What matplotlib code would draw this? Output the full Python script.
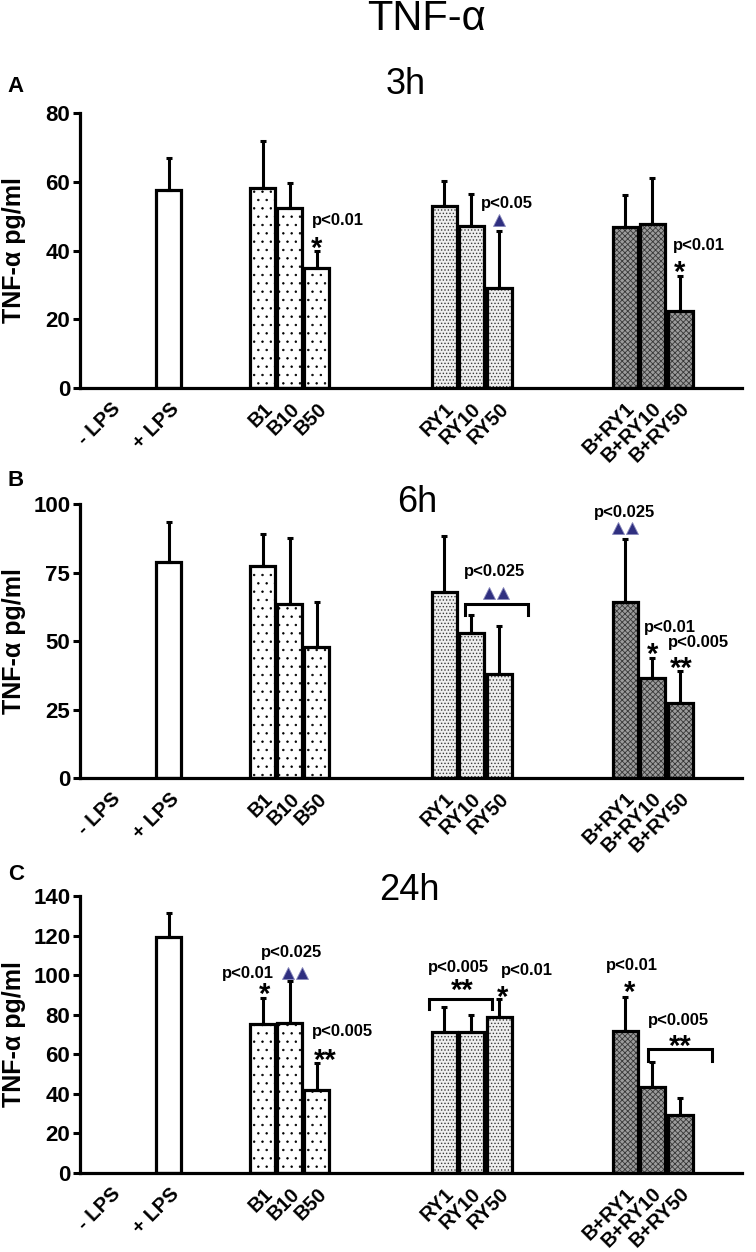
import matplotlib.pyplot as plt
import matplotlib.transforms as mtransforms
import numpy as np

plt.rcParams['font.family'] = ['Liberation Sans', 'DejaVu Sans']

labels = ['- LPS', '+ LPS', 'B1', 'B10', 'B50', 'RY1', 'RY10', 'RY50',
          'B+RY1', 'B+RY10', 'B+RY50']
groups = ['lps', 'lps', 'b', 'b', 'b', 'ry', 'ry', 'ry', 'bry', 'bry', 'bry']

# TNF-alpha (pg/ml), mean and upper error
mean_3h = [0, 57.6, 58.1, 52.3, 34.9, 52.9, 47.1, 29.1, 46.8, 47.7, 22.4]
err_3h = [0, 9.3, 13.9, 7.3, 4.9, 7.3, 9.3, 16.5, 9.3, 13.3, 10.2]
mean_6h = [0, 78.8, 77.4, 63.5, 47.8, 67.9, 52.9, 38.0, 64.2, 36.5, 27.4]
err_6h = [0, 14.6, 11.7, 24.1, 16.4, 20.4, 6.6, 17.5, 23.0, 7.3, 11.6]
mean_24h = [0, 119.2, 75.3, 75.8, 41.9, 71.2, 71.2, 78.8, 71.7, 43.4, 29.3]
err_24h = [0, 12.1, 13.1, 21.2, 13.7, 12.8, 8.6, 9.1, 17.2, 12.6, 8.6]

# layout (x in axis units)
xpos = [31, 89, 183, 210, 237, 364, 391, 419, 545, 572, 600]
width = 25

styles = {
    'lps': dict(face='white', hatch=None, hcol='black', hlw=1.0),
    'b': dict(face='white', hatch='..', hcol='black', hlw=0.5),
    'ry': dict(face='#eeeeee', hatch='.....', hcol='#3a3a3a', hlw=0.6),
    'bry': dict(face='#9c9c9c', hatch='xxxxxx', hcol='#383838', hlw=0.6),
}

panels = [
    dict(name='3h', letter='A', mean=mean_3h, err=err_3h, ymax=80, step=20,
         rect=[0.1058, 0.6901, 0.8757, 0.2196], title_xy=(406, 85), letter_xy=(15, 87),
         ptext=[(258, 48.8, 'p<0.01'), (427, 53.8, 'p<0.05'), (619, 41.6, 'p<0.01')],
         stars=[(237, 42.2, '*'), (600, 35.2, '*')],
         tri=[(419, 48.8)],
         brackets=[]),
    dict(name='6h', letter='B', mean=mean_6h, err=err_6h, ymax=100, step=25,
         rect=[0.1058, 0.3786, 0.8757, 0.2188], title_xy=(417, 503), letter_xy=(16, 481),
         ptext=[(415, 75.5, 'p<0.025'), (545, 97.0, 'p<0.025'),
                (590, 55.1, 'p<0.01'), (618, 49.3, 'p<0.005')],
         stars=[(573, 47.1, '*'), (601, 42.0, '**')],
         tri=[(409, 67.5), (423, 67.5), (538, 91.2), (552, 91.2)],
         brackets=[(385, 448, 63.5, 59.5)]),
    dict(name='24h', letter='C', mean=mean_24h, err=err_24h, ymax=140, step=20,
         rect=[0.1058, 0.0631, 0.8757, 0.2212], title_xy=(409, 890), letter_xy=(16, 875),
         ptext=[(168, 101, 'p<0.01'), (212, 111.6, 'p<0.025'), (263, 71.7, 'p<0.005'),
                (378, 104, 'p<0.005'), (447, 102.5, 'p<0.01'), (552, 105, 'p<0.01'),
                (598, 77.3, 'p<0.005')],
         stars=[(185, 93, '*'), (245, 59.6, '**'), (382, 95, '**'), (423, 91.4, '*'),
                (550, 94, '*'), (600, 66.7, '**')],
         tri=[(208, 101), (222, 101)],
         brackets=[(349, 412, 87.9, 82.8), (568, 632, 62.6, 56.6)]),
]

W, H = 756, 1252
fig = plt.figure(figsize=(W / 100, H / 100), dpi=100)

fig.text(426 / W, 1 - 19 / H, 'TNF-α', fontsize=30, ha='center', va='center')

shift = mtransforms.ScaledTranslation(7 / 100, 0, fig.dpi_scale_trans)

for p in panels:
    ax = fig.add_axes(p['rect'])
    # bars: hatched fill first, black outline on top
    for x, m, g in zip(xpos, p['mean'], groups):
        if m <= 0:
            continue
        st = styles[g]
        b = ax.bar(x, m, width, color=st['face'], edgecolor=st['hcol'],
                   hatch=st['hatch'], linewidth=0, zorder=2)
        for r in b:
            if hasattr(r, 'set_hatch_linewidth'):
                r.set_hatch_linewidth(st['hlw'])
        ax.bar(x, m, width, fill=False, edgecolor='black', linewidth=2.3, zorder=3)
    xs = [x for x, m in zip(xpos, p['mean']) if m > 0]
    ms = [m for m in p['mean'] if m > 0]
    es = [e for e, m in zip(p['err'], p['mean']) if m > 0]
    ax.errorbar(xs, ms, yerr=[np.zeros(len(es)), es], fmt='none', ecolor='black',
                elinewidth=2.2, capsize=2.5, capthick=2.2, zorder=4)

    for x, y, t in p['ptext']:
        ax.text(x, y, t, fontsize=12, fontweight='bold', ha='center', va='center')
    for x, y, t in p['stars']:
        ax.annotate(t, (x, y), xytext=(0, -14), textcoords='offset pixels',
                    fontsize=21, fontweight='bold', ha='center', va='baseline')
    for x, y in p['tri']:
        ax.plot(x, y, marker='^', markersize=9, color='#2f2f80',
                markeredgecolor='#8888bb', markeredgewidth=0.6, zorder=5)
    for x0, x1, yt, yl in p['brackets']:
        ax.plot([x0, x0, x1, x1], [yl, yt, yt, yl], color='black', lw=2.2,
                solid_joinstyle='miter', zorder=5)

    ax.set_xlim(0, 662)
    ax.set_ylim(0, p['ymax'])
    ax.set_yticks(np.arange(0, p['ymax'] + 1, p['step']))
    ax.set_xticks(xpos)
    ax.set_xticklabels(labels, rotation=45, ha='right', rotation_mode='anchor',
                       fontsize=14.5, fontweight='bold')
    for lab in ax.get_xticklabels():
        lab.set_transform(lab.get_transform() + shift)
    ax.tick_params(axis='x', length=0, pad=8)
    ax.tick_params(axis='y', length=5, width=2.2, pad=2, labelsize=16)
    for lab in ax.get_yticklabels():
        lab.set_fontweight('bold')
    for s in ['top', 'right']:
        ax.spines[s].set_visible(False)
    for s in ['left', 'bottom']:
        ax.spines[s].set_linewidth(2.3)
    ax.set_ylabel('TNF-α pg/ml', fontsize=18, fontweight='bold')
    ax.yaxis.set_label_coords(-0.082, 0.5)

    fig.text(p['title_xy'][0] / W, 1 - p['title_xy'][1] / H, p['name'],
             fontsize=26, ha='center', va='center')
    fig.text(p['letter_xy'][0] / W, 1 - p['letter_xy'][1] / H, p['letter'],
             fontsize=16, fontweight='bold', ha='center', va='center')

fig.savefig('out.png', dpi=100)
